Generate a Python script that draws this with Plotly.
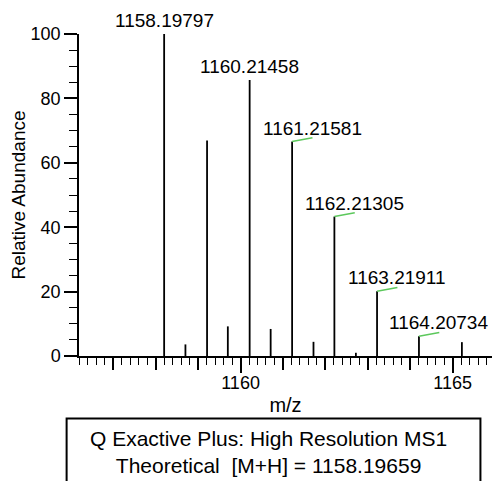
import plotly.graph_objects as go

# Centroided MS1 peaks around the [M+H]+ isotope cluster
mz = [1158.19797, 1158.70, 1159.21, 1159.70, 1160.21458, 1160.71,
      1161.21581, 1161.72, 1162.21305, 1162.72, 1163.21911, 1164.20734, 1165.22]
abundance = [100.0, 3.6, 66.9, 9.2, 85.7, 8.4, 66.6, 4.4, 43.3, 1.0, 20.1, 6.1, 4.3]

# Labelled peaks and the horizontal nudge applied to each label (px)
label_mz = [1158.19797, 1160.21458, 1161.21581, 1162.21305, 1163.21911, 1164.20734]
label_shift = [0, 0, 20, 20, 20, 20]

# Peaks carrying a theoretical-isotope marker
marker_mz = [1161.21581, 1162.21305, 1163.21911, 1164.20734]

x_ticks = [1160, 1165]
y_ticks = [0, 20, 40, 60, 80, 100]

FONT = "Liberation Sans, Arial, sans-serif"
height_of = dict(zip(mz, abundance))

# Stick spectrum: one vertical segment per peak
sx, sy = [], []
for m, a in zip(mz, abundance):
    sx += [m, m, None]
    sy += [0, a, None]

fig = go.Figure()
fig.add_trace(go.Scatter(x=sx, y=sy, mode="lines",
                         line=dict(color="black", width=1.8),
                         hoverinfo="skip", showlegend=False))

# Short green isotope markers starting at the peak apex
gx, gy = [], []
for m in marker_mz:
    a = height_of[m]
    gx += [m, m + 0.48, None]
    gy += [a, a + 1.2, None]
fig.add_trace(go.Scatter(x=gx, y=gy, mode="lines",
                         line=dict(color="#5cc85c", width=1.5),
                         hoverinfo="skip", showlegend=False))

# Secondary x axis draws the long labelled ticks and the axis title
fig.add_trace(go.Scatter(x=[x_ticks[0]], y=[0], xaxis="x2", mode="markers",
                         marker=dict(opacity=0), hoverinfo="skip", showlegend=False))

for m, dx in zip(label_mz, label_shift):
    fig.add_annotation(x=m, y=height_of[m], text=f"{m:.5f}", showarrow=False,
                       xanchor="center", yanchor="bottom", xshift=dx, yshift=1,
                       font=dict(family=FONT, size=19, color="black"))

xr = [1156.19, 1165.93]
fig.update_layout(
    width=492, height=481,
    margin=dict(l=79, r=0, t=34, b=124.5),
    paper_bgcolor="white", plot_bgcolor="white",
    font=dict(family=FONT, color="black"),
    xaxis=dict(range=xr, showgrid=False, zeroline=False,
               showline=True, linecolor="black", linewidth=1.5,
               tickmode="linear", tick0=1156, dtick=1, ticks="outside",
               ticklen=12, tickwidth=1.5, tickcolor="black", showticklabels=False,
               minor=dict(dtick=0.2, tick0=1156, ticks="outside", ticklen=7,
                          tickwidth=1.2, tickcolor="black")),
    xaxis2=dict(range=xr, overlaying="x", side="bottom", showgrid=False,
                zeroline=False, showline=False, tickmode="array",
                tickvals=x_ticks, ticktext=[str(v) for v in x_ticks],
                ticks="outside", ticklen=16, tickwidth=1.5, tickcolor="black",
                ticklabelstandoff=-6,
                tickfont=dict(family=FONT, size=18, color="black"),
                title=dict(text="m/z", font=dict(family=FONT, size=20), standoff=6)),
    yaxis=dict(range=[0, 100], showgrid=False, zeroline=False,
               showline=True, linecolor="black", linewidth=1.5,
               tickmode="array", tickvals=y_ticks, ticks="outside",
               ticklen=13, tickwidth=1.5, tickcolor="black",
               tickfont=dict(family=FONT, size=18, color="black"),
               minor=dict(dtick=5, tick0=0, ticks="outside", ticklen=8,
                          tickwidth=1.2, tickcolor="black"),
               title=dict(text="Relative Abundance",
                          font=dict(family=FONT, size=19), standoff=0)),
)

# Instrument info box below the axis
fig.add_shape(type="rect", xref="paper", yref="paper",
              x0=-0.03, x1=0.972, y0=-0.45, y1=-0.194,
              line=dict(color="black", width=2), fillcolor="rgba(0,0,0,0)")
fig.add_annotation(xref="paper", yref="paper", x=0.46, y=-0.2977,
                   xanchor="center", yanchor="middle", showarrow=False,
                   text="Q Exactive Plus: High Resolution MS1<br>Theoretical\u00a0 [M+H] = 1158.19659",
                   font=dict(family=FONT, size=21, color="black"))

fig.write_html("out.html")
